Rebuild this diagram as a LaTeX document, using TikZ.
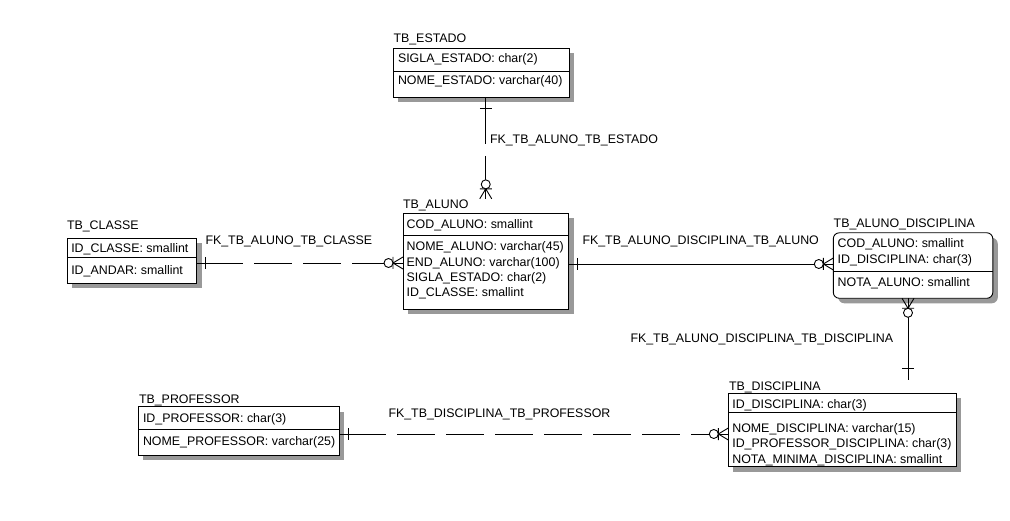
\documentclass[tikz,border=0pt]{standalone}
\usepackage{fontspec}
\setmainfont{Liberation Sans}
\usetikzlibrary{calc,backgrounds}
\begin{document}
\begin{tikzpicture}[x=1pt,y=-1pt,line width=0.9pt,
  every node/.style={inner sep=0pt,outer sep=0pt,font=\fontsize{12.4}{14}\selectfont},
  ent/.style={draw,fill=white,anchor=north west},
  txt/.style={anchor=base west},
  shade/.style={fill=black!40},
  many/.pic={
    \draw (10,0) -- (0,-6) (10,0) -- (0,6) (10,-6) -- (10,6);
    \draw[fill=white] (14.5,0) circle[radius=4.5pt];
  }]
\useasboundingbox (0,0) rectangle (1010,521);

% entities
\node[ent,minimum width=176pt,minimum height=49pt] (estado) at (393,48) {};
\node[ent,minimum width=165.5pt,minimum height=96pt] (aluno) at (403,213.3) {};
\node[ent,minimum width=129.5pt,minimum height=45pt] (classe) at (67.3,238.3) {};
\node[ent,rounded corners=6pt,minimum width=159.5pt,minimum height=65.5pt] (ad) at (833.3,232.8) {};
\node[ent,minimum width=227.7pt,minimum height=73.4pt] (disc) at (728.3,393.3) {};
\node[ent,minimum width=201pt,minimum height=48.3pt] (prof) at (138.3,406.7) {};

\begin{scope}[on background layer]
\fill[shade] ([shift={(5pt,-5pt)}]estado.north west) rectangle ([shift={(5pt,-5pt)}]estado.south east);
\fill[shade] ([shift={(5pt,-5pt)}]aluno.north west) rectangle ([shift={(5pt,-5pt)}]aluno.south east);
\fill[shade] ([shift={(5pt,-5pt)}]classe.north west) rectangle ([shift={(5pt,-5pt)}]classe.south east);
\fill[shade,rounded corners=6pt] ([shift={(5pt,-5pt)}]ad.north west) rectangle ([shift={(5pt,-5pt)}]ad.south east);
\fill[shade] ([shift={(5pt,-5pt)}]disc.north west) rectangle ([shift={(5pt,-5pt)}]disc.south east);
\fill[shade] ([shift={(5pt,-5pt)}]prof.north west) rectangle ([shift={(5pt,-5pt)}]prof.south east);
\end{scope}

% dividers
\draw ([yshift=-23.3pt]estado.north west) -- ([yshift=-23.3pt]estado.north east);
\draw ([yshift=-22.4pt]aluno.north west) -- ([yshift=-22.4pt]aluno.north east);
\draw ([yshift=-19.4pt]classe.north west) -- ([yshift=-19.4pt]classe.north east);
\draw ([yshift=-38.2pt]ad.north west) -- ([yshift=-38.2pt]ad.north east);
\draw ([yshift=-19pt]disc.north west) -- ([yshift=-19pt]disc.north east);
\draw ([yshift=-22.3pt]prof.north west) -- ([yshift=-22.3pt]prof.north east);

% texts
\node[txt] (estado-t) at (393.5,43) {TB\_ESTADO};
\node[txt] (estado-1) at (398,62.5) {SIGLA\_ESTADO: char(2)};
\node[txt] (estado-2) at (398,84.5) {NOME\_ESTADO: varchar(40)};

\node[txt] (aluno-t) at (403,209) {TB\_ALUNO};
\node[txt] (aluno-1) at (406.7,228.5) {COD\_ALUNO: smallint};
\node[txt] (aluno-2) at (406.7,251) {NOME\_ALUNO: varchar(45)};
\node[txt] (aluno-3) at (406.7,266.3) {END\_ALUNO: varchar(100)};
\node[txt] (aluno-4) at (406.7,281.6) {SIGLA\_ESTADO: char(2)};
\node[txt] (aluno-5) at (406.7,296.9) {ID\_CLASSE: smallint};

\node[txt] (classe-t) at (67,230) {TB\_CLASSE};
\node[txt] (classe-1) at (71.3,253) {ID\_CLASSE: smallint};
\node[txt] (classe-2) at (71.3,275) {ID\_ANDAR: smallint};

\node[txt] (ad-t) at (833.7,228) {TB\_ALUNO\_DISCIPLINA};
\node[txt] (ad-1) at (837.7,248) {COD\_ALUNO: smallint};
\node[txt] (ad-2) at (837.7,263.5) {ID\_DISCIPLINA: char(3)};
\node[txt] (ad-3) at (837.7,286.5) {NOTA\_ALUNO: smallint};

\node[txt] (disc-t) at (729,390.5) {TB\_DISCIPLINA};
\node[txt] (disc-1) at (732.3,409) {ID\_DISCIPLINA: char(3)};
\node[txt] (disc-2) at (732.3,432) {NOME\_DISCIPLINA: varchar(15)};
\node[txt] (disc-3) at (732.3,447.5) {ID\_PROFESSOR\_DISCIPLINA: char(3)};
\node[txt] (disc-4) at (732.3,463) {NOTA\_MINIMA\_DISCIPLINA: smallint};

\node[txt] (prof-t) at (139,403) {TB\_PROFESSOR};
\node[txt] (prof-1) at (143,422.3) {ID\_PROFESSOR: char(3)};
\node[txt] (prof-2) at (143,445) {NOME\_PROFESSOR: varchar(25)};

% labels
\node[txt] (l1) at (490,143.5) {FK\_TB\_ALUNO\_TB\_ESTADO};
\node[txt] (l2) at (205.5,244.5) {FK\_TB\_ALUNO\_TB\_CLASSE};
\node[txt] (l3) at (582.5,244.5) {FK\_TB\_ALUNO\_DISCIPLINA\_TB\_ALUNO};
\node[txt] (l4) at (630.5,342.5) {FK\_TB\_ALUNO\_DISCIPLINA\_TB\_DISCIPLINA};
\node[txt] (l5) at (388.5,417.5) {FK\_TB\_DISCIPLINA\_TB\_PROFESSOR};

% connectors
\coordinate (r1a) at (aluno.north |- estado.south);
\coordinate (r1b) at ($(aluno.north |- aluno-t.north)+(0,-1.5)$);
\draw[dash pattern=on 47pt off 12pt on 300pt] (r1a) -- (r1b);
\draw ($(r1a)+(-6,11)$) -- ($(r1a)+(6,11)$);
\pic[rotate=90] at (r1b) {many};

\coordinate (r2a) at (classe.east |- 0,263);
\coordinate (r2b) at (aluno.west |- 0,263);
\draw[dash pattern=on 46.5pt off 11pt on 38pt off 11pt on 38pt off 11pt on 300pt] (r2a) -- (r2b);
\draw ($(r2a)+(8.5,-6)$) -- ($(r2a)+(8.5,6)$);
\pic[rotate=180] at (r2b) {many};

\coordinate (r3a) at (aluno.east |- 0,264);
\coordinate (r3b) at (ad.west |- 0,264);
\draw (r3a) -- (r3b);
\draw ($(r3a)+(9,-6)$) -- ($(r3a)+(9,6)$);
\pic[rotate=180] at (r3b) {many};

\coordinate (r4a) at (ad.south -| 908,0);
\coordinate (r4b) at ($(disc-t.north -| 908,0)+(0,-2)$);
\draw (r4a) -- (r4b);
\draw ($(r4b)+(-6,-11.5)$) -- ($(r4b)+(6,-11.5)$);
\pic[rotate=-90] at (r4a) {many};

\coordinate (r5a) at (prof.east |- 0,434);
\coordinate (r5b) at (disc.west |- 0,434);
\draw[dash pattern=on 47pt off 11pt on 38pt off 11pt on 38pt off 11pt on 38pt off 11pt on 38pt off 11pt on 38pt off 11pt on 38pt off 11pt on 300pt] (r5a) -- (r5b);
\draw ($(r5a)+(9,-6)$) -- ($(r5a)+(9,6)$);
\pic[rotate=180] at (r5b) {many};
\end{tikzpicture}
\end{document}
